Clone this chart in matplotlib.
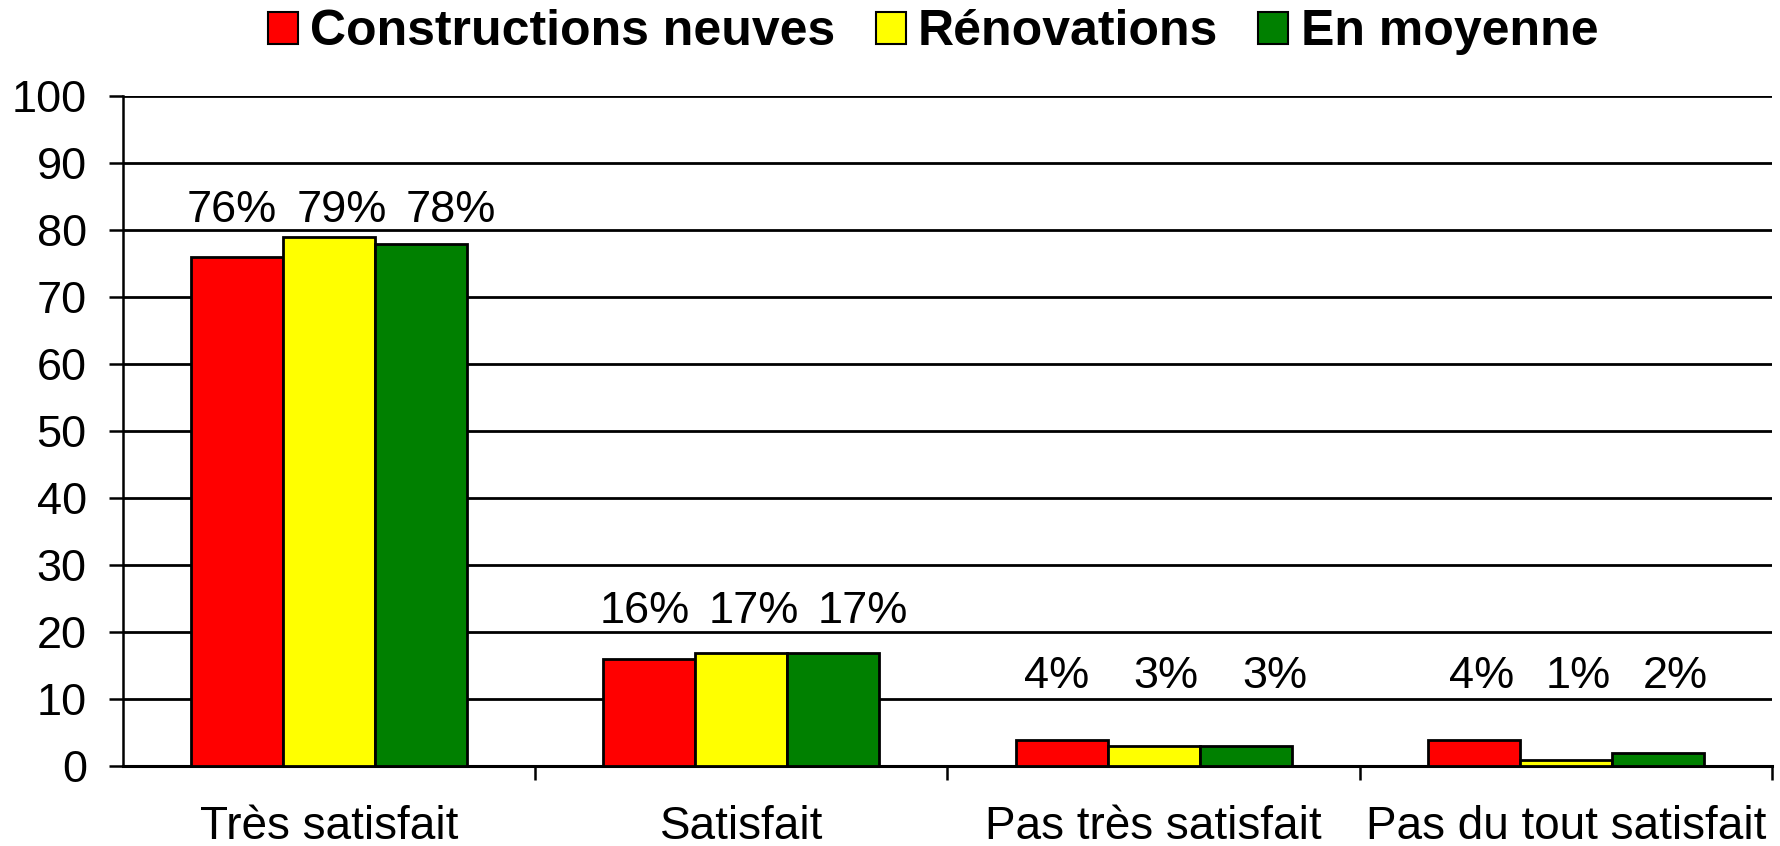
import numpy as np
import matplotlib
matplotlib.use('Agg')
import matplotlib.pyplot as plt

plt.rcParams['font.family'] = ['Liberation Sans', 'DejaVu Sans']

# données
categories = ['Très satisfait', 'Satisfait', 'Pas très satisfait', 'Pas du tout satisfait']
series = ['Constructions neuves', 'Rénovations', 'En moyenne']
neuves = [76, 16, 4, 4]
renovations = [79, 17, 3, 1]
moyenne = [78, 17, 3, 2]
colors = ['#FF0000', '#FFFF00', '#008000']

values = [neuves, renovations, moyenne]
label_y = [83, 23.2, 13.4, 13.4]

fig = plt.figure(figsize=(17.81, 8.46), dpi=100)
ax = fig.add_axes([0.069, 0.094, 0.926, 0.792])

x = np.arange(len(categories))
w = 0.223
for i, (name, vals, c) in enumerate(zip(series, values, colors)):
    ax.bar(x + (i - 1) * w, vals, w, color=c, edgecolor='black', linewidth=2.0,
           label=name, zorder=3)
    for j, v in enumerate(vals):
        sp = 0.235 if j == 3 else 0.265
        ax.text(x[j] + (i - 1) * sp + 0.03, label_y[j], '%d%%' % v,
                ha='center', va='center', fontsize=32.5)

ax.set_xlim(-0.5, 3.5)
ax.set_ylim(0, 100)
ax.set_yticks(range(0, 101, 10))
ax.grid(axis='y', color='black', linewidth=2.0, zorder=0)
ax.tick_params(axis='y', labelsize=32.5, length=10, width=1.8, pad=16, direction='out')

ax.set_xticks(np.arange(0.5, 3.6, 1.0))
ax.set_xticklabels([])
ax.tick_params(axis='x', which='major', length=10, width=1.8, direction='out')
ax.set_xticks(x, minor=True)
ax.set_xticklabels(categories, minor=True)
ax.tick_params(axis='x', which='minor', length=0, labelsize=33, pad=28)

for s in ['top', 'right']:
    ax.spines[s].set_visible(False)
ax.spines['left'].set_linewidth(1.8)
ax.spines['bottom'].set_linewidth(2.2)

leg = fig.legend(loc='upper center', bbox_to_anchor=(0.524, 1.042), ncol=3, frameon=False,
                 prop={'weight': 'bold', 'size': 36}, handlelength=0.6, handleheight=0.6,
                 handletextpad=0.25, columnspacing=0.8)
for h in leg.legend_handles:
    h.set_linewidth(1.5)

fig.savefig('out.png', dpi=100)
